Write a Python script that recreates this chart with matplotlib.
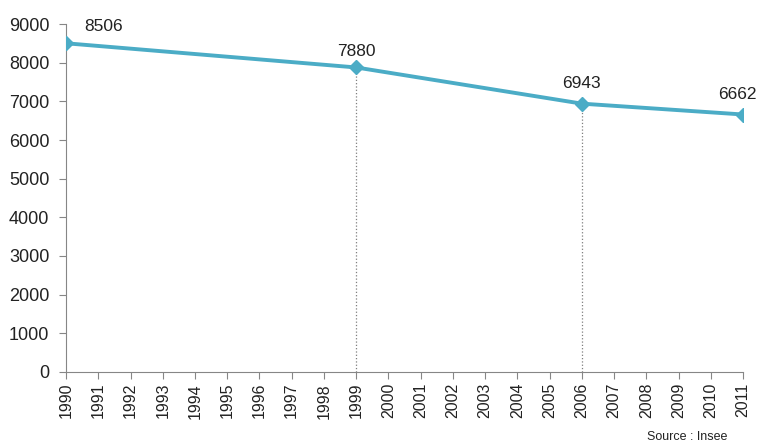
import matplotlib.pyplot as plt

plt.rcParams['font.family'] = ['Liberation Sans', 'DejaVu Sans']

# === Data ===
years = list(range(1990, 2012))
census_years = [1990, 1999, 2006, 2011]
population = [8506, 7880, 6943, 6662]
drop_years = [1999, 2006]
yticks = list(range(0, 10000, 1000))

line_color = '#4BACC6'

fig = plt.figure(figsize=(7.59, 4.48), dpi=100)
ax = fig.add_axes([0.087, 0.170, 0.892, 0.776])

# dotted drop lines
for yr in drop_years:
    val = population[census_years.index(yr)]
    ax.plot([yr, yr], [0, val], color='#7f7f7f', linestyle=':', linewidth=0.9, zorder=1)

ax.plot(census_years, population, color=line_color, linewidth=2.8,
        marker='D', markersize=7, zorder=3)

# value labels
label_offsets = [(27, 7), (0, 6), (0, 9), (-4, 9)]
for yr, val, off in zip(census_years, population, label_offsets):
    ax.annotate(str(val), (yr, val), xytext=off, textcoords='offset points',
                ha='center', va='bottom', fontsize=12.5, color='#222222')

ax.set_xlim(1990, 2011)
ax.set_ylim(0, 9000)
ax.set_xticks(years)
ax.set_xticklabels([str(y) for y in years], rotation=90, fontsize=11.5)
ax.set_yticks(yticks)
ax.set_yticklabels([str(t) for t in yticks], fontsize=13)

ax.spines['top'].set_visible(False)
ax.spines['right'].set_visible(False)
ax.spines['left'].set_color('#868686')
ax.spines['bottom'].set_color('#868686')
ax.tick_params(axis='both', direction='out', color='#868686', length=5, width=0.8,
               labelcolor='#222222')
ax.tick_params(axis='y', pad=7)
ax.tick_params(axis='x', pad=3)

fig.text(0.958, 0.012, 'Source : Insee', ha='right', va='bottom', fontsize=9, color='#222222')

fig.savefig('out.png', dpi=100)
